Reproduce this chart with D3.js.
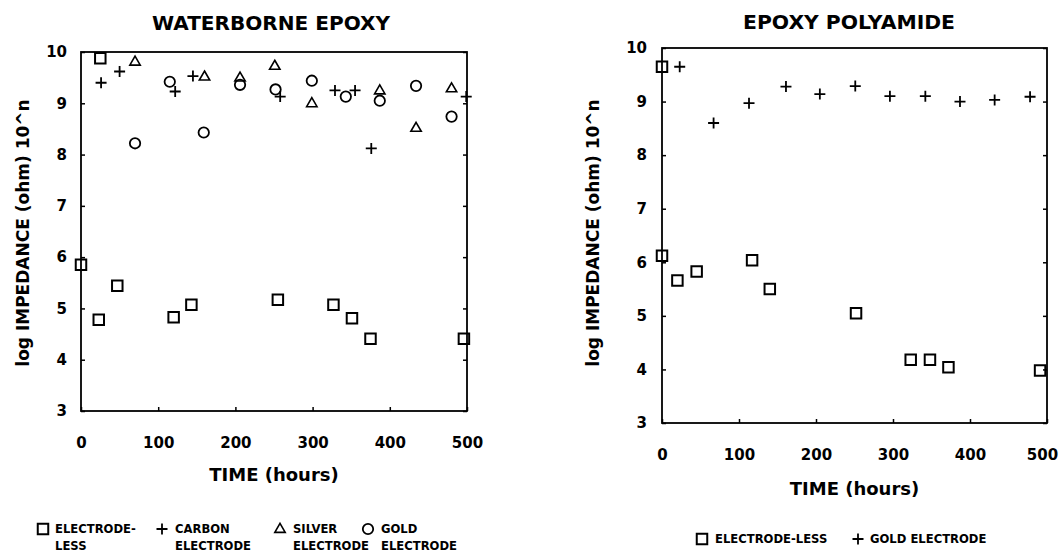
<!DOCTYPE html>
<html>
<head>
<meta charset="utf-8">
<script src="https://cdn.jsdelivr.net/npm/d3@7"></script>
<style>
  html, body { margin: 0; padding: 0; background: #fff; }
  svg { display: block; font-family: "DejaVu Sans", sans-serif; font-weight: bold; }
</style>
</head>
<body>
<svg id="chart" width="1060" height="552"></svg>
<script>
// ---- data ----
const timeTicks = [0, 100, 200, 300, 400, 500];
const impedanceTicks = [3, 4, 5, 6, 7, 8, 9, 10];

// Waterborne epoxy
const wbLessTime   = [0, 25, 23, 47, 120, 143, 255, 327, 351, 375, 496];
const wbLessVal    = [5.85, 9.88, 4.78, 5.44, 4.83, 5.07, 5.17, 5.07, 4.81, 4.41, 4.41];
const wbCarbonTime = [26, 50, 122, 145, 258, 329, 355, 376, 499];
const wbCarbonVal  = [9.40, 9.62, 9.23, 9.53, 9.13, 9.25, 9.25, 8.12, 9.13];
const wbSilverTime = [70, 160, 206, 251, 299, 387, 434, 480];
const wbSilverVal  = [9.81, 9.52, 9.50, 9.73, 9.00, 9.25, 8.52, 9.29];
const wbGoldTime   = [70, 115, 159, 206, 252, 299, 343, 387, 434, 480];
const wbGoldVal    = [8.22, 9.42, 8.43, 9.36, 9.27, 9.44, 9.13, 9.05, 9.34, 8.74];

// Epoxy polyamide
const epLessTime = [0, 0, 20, 45, 117, 140, 252, 323, 348, 372, 491];
const epLessVal  = [9.65, 6.12, 5.66, 5.83, 6.04, 5.50, 5.05, 4.18, 4.18, 4.04, 3.98];
const epGoldTime = [23, 67, 113, 161, 205, 251, 296, 342, 387, 432, 478];
const epGoldVal  = [9.65, 8.60, 8.97, 9.28, 9.14, 9.29, 9.10, 9.10, 9.00, 9.03, 9.09];

const titles = ["WATERBORNE EPOXY", "EPOXY POLYAMIDE"];
const yTitle = "log IMPEDANCE (ohm) 10^n";
const xTitle = "TIME (hours)";

// ---- drawing ----
const svg = d3.select("#chart");

const markerPaths = {
  square: d3.symbol().type(d3.symbolSquare).size(110)(),
  plus: "M-5.5,0H5.5M0,-5.5V5.5",
  triangle: "M0,-5.6L5.2,3.4L-5.2,3.4Z",
  circle: d3.symbol().type(d3.symbolCircle).size(85)()
};
const markerStroke = { square: 2, plus: 1.8, triangle: 1.6, circle: 1.8 };

function zip(t, v) { return t.map((d, i) => ({ t: d, v: v[i] })); }

function drawMarker(g, type, x, y) {
  g.append("path")
    .attr("d", markerPaths[type])
    .attr("transform", `translate(${x},${y})`)
    .attr("fill", "none")
    .attr("stroke", "#000")
    .attr("stroke-width", markerStroke[type]);
}

function panel(cfg) {
  const x = d3.scaleLinear().domain([0, 500]).range([cfg.x0, cfg.x1]);
  const y = d3.scaleLinear().domain([3, 10]).range([cfg.y1, cfg.y0]);
  const g = svg.append("g");

  // frame
  g.append("rect")
    .attr("x", cfg.x0).attr("y", cfg.y0)
    .attr("width", cfg.x1 - cfg.x0).attr("height", cfg.y1 - cfg.y0)
    .attr("fill", "none").attr("stroke", "#000").attr("stroke-width", 1.8);

  const fmt = d3.format("d");
  const ax = g.append("g").attr("transform", `translate(${cfg.x0},0)`)
    .call(d3.axisLeft(y).tickValues(impedanceTicks).tickFormat(fmt).tickSize(-4).tickPadding(cfg.yPad));
  const axR = g.append("g").attr("transform", `translate(${cfg.x1},0)`)
    .call(d3.axisRight(y).tickValues(impedanceTicks).tickFormat("").tickSize(-4));
  const axB = g.append("g").attr("transform", `translate(0,${cfg.y1})`)
    .call(d3.axisBottom(x).tickValues(timeTicks).tickFormat(fmt).tickSize(-4).tickPadding(26));
  [ax, axR, axB].forEach(a => {
    a.select(".domain").remove();
    a.selectAll(".tick line").attr("stroke", "#000").attr("stroke-width", 1.5);
    a.selectAll("text").attr("font-family", "DejaVu Sans").attr("font-weight", "bold")
      .attr("font-size", 15).attr("fill", "#000");
  });
  axB.selectAll(".tick text").filter(d => d === 500).attr("dx", cfg.lastDx);

  // title
  g.append("text").attr("x", cfg.titleX).attr("y", cfg.titleY)
    .attr("text-anchor", "middle").attr("font-size", 20)
    .attr("textLength", cfg.titleLen).attr("lengthAdjust", "spacingAndGlyphs")
    .text(cfg.title);

  // y title
  g.append("text")
    .attr("transform", `translate(${cfg.yTitleX},${cfg.yTitleY}) rotate(-90)`)
    .attr("text-anchor", "middle").attr("dominant-baseline", "central")
    .attr("font-size", 17).text(yTitle);

  // x title
  g.append("text").attr("x", (cfg.x0 + cfg.x1) / 2).attr("y", cfg.xTitleY)
    .attr("text-anchor", "middle").attr("font-size", 18).text(xTitle);

  // data
  cfg.series.forEach(s => {
    zip(s.t, s.v).forEach(d => drawMarker(g, s.type, x(d.t), y(d.v)));
  });

  // legend
  cfg.legend.forEach(l => {
    drawMarker(g, l.type, l.mx, l.y);
    l.lines.forEach((txt, i) => {
      g.append("text").attr("x", l.tx).attr("y", l.y + 4 + i * 17)
        .attr("font-size", 11.6).text(txt);
    });
  });
}

panel({
  x0: 81, x1: 467, y0: 52, y1: 411, yPad: 14, lastDx: 0,
  title: titles[0], titleX: 271, titleY: 30, titleLen: 238,
  yTitleX: 23, yTitleY: 233, xTitleY: 481,
  series: [
    { type: "square", t: wbLessTime, v: wbLessVal },
    { type: "plus", t: wbCarbonTime, v: wbCarbonVal },
    { type: "triangle", t: wbSilverTime, v: wbSilverVal },
    { type: "circle", t: wbGoldTime, v: wbGoldVal }
  ],
  legend: [
    { type: "square", mx: 43, tx: 55, y: 529, lines: ["ELECTRODE-", "LESS"] },
    { type: "plus", mx: 162, tx: 175, y: 529, lines: ["CARBON", "ELECTRODE"] },
    { type: "triangle", mx: 280, tx: 293, y: 529, lines: ["SILVER", "ELECTRODE"] },
    { type: "circle", mx: 368, tx: 381, y: 529, lines: ["GOLD", "ELECTRODE"] }
  ]
});

panel({
  x0: 662, x1: 1047, y0: 48, y1: 423, yPad: 15, lastDx: -5,
  title: titles[1], titleX: 849, titleY: 29, titleLen: 212,
  yTitleX: 593, yTitleY: 233, xTitleY: 495,
  series: [
    { type: "square", t: epLessTime, v: epLessVal },
    { type: "plus", t: epGoldTime, v: epGoldVal }
  ],
  legend: [
    { type: "square", mx: 702, tx: 715, y: 539, lines: ["ELECTRODE-LESS"] },
    { type: "plus", mx: 858, tx: 870, y: 539, lines: ["GOLD ELECTRODE"] }
  ]
});
</script>
</body>
</html>
